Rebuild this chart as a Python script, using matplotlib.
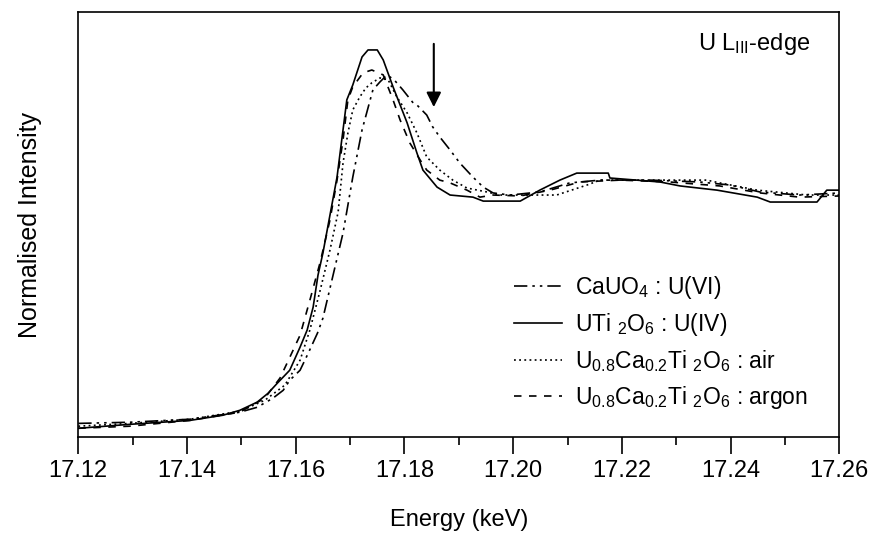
import numpy as np
import matplotlib
matplotlib.use('Agg')
import matplotlib.pyplot as plt

plt.rcParams['font.family'] = ['Liberation Sans', 'DejaVu Sans']
plt.rcParams['mathtext.fontset'] = 'custom'
plt.rcParams['mathtext.rm'] = 'Liberation Sans'
plt.rcParams['mathtext.it'] = 'Liberation Sans:italic'
plt.rcParams['mathtext.bf'] = 'Liberation Sans:bold'

# UTi2O6 : U(IV)  (solid)
e_uti = [17.1200, 17.1295, 17.1406, 17.1466, 17.1497, 17.1529, 17.1549, 17.1566, 17.1589,
         17.1608, 17.1621, 17.1632, 17.1641, 17.1650, 17.1676, 17.1687, 17.1694, 17.1705,
         17.1722, 17.1733, 17.1750, 17.1761, 17.1779, 17.1805, 17.1823, 17.1834, 17.1860,
         17.1884, 17.1926, 17.1945, 17.1957, 17.2013, 17.2049, 17.2086, 17.2117, 17.2175,
         17.2178, 17.2270, 17.2307, 17.2375, 17.2449, 17.2473, 17.2559, 17.2577, 17.2601]
i_uti = [0.000, 0.017, 0.034, 0.056, 0.077, 0.112, 0.150, 0.193, 0.249,
         0.348, 0.421, 0.519, 0.657, 0.751, 1.077, 1.279, 1.408, 1.472,
         1.592, 1.622, 1.622, 1.579, 1.464, 1.309, 1.180, 1.107, 1.034,
         1.000, 0.991, 0.974, 0.974, 0.974, 1.021, 1.064, 1.094, 1.094,
         1.073, 1.056, 1.039, 1.021, 0.991, 0.970, 0.970, 1.021, 1.021]

# CaUO4 : U(VI)  (dash-dot-dot)
e_cau = [17.1200, 17.1295, 17.1406, 17.1497, 17.1529, 17.1558, 17.1577, 17.1589, 17.1608,
         17.1623, 17.1640, 17.1650, 17.1687, 17.1705, 17.1722, 17.1737, 17.1742, 17.1755,
         17.1768, 17.1781, 17.1797, 17.1816, 17.1823, 17.1841, 17.1852, 17.1865, 17.1884,
         17.1902, 17.1926, 17.1945, 17.1963, 17.1994, 17.2049, 17.2104, 17.2160, 17.2252,
         17.2343, 17.2399, 17.2454, 17.2527, 17.2601]
i_cau = [0.021, 0.026, 0.039, 0.069, 0.090, 0.129, 0.163, 0.206, 0.249,
         0.322, 0.408, 0.472, 0.837, 1.077, 1.279, 1.408, 1.451, 1.485,
         1.515, 1.494, 1.451, 1.395, 1.386, 1.343, 1.292, 1.249, 1.193,
         1.137, 1.077, 1.034, 1.009, 1.000, 1.013, 1.052, 1.064, 1.064,
         1.056, 1.043, 1.013, 1.000, 1.009]

# U0.8Ca0.2Ti2O6 : air  (dotted)
e_air = [17.1200, 17.1295, 17.1406, 17.1497, 17.1543, 17.1580, 17.1608, 17.1626, 17.1645,
         17.1663, 17.1678, 17.1687, 17.1696, 17.1705, 17.1718, 17.1729, 17.1740, 17.1755,
         17.1770, 17.1786, 17.1805, 17.1823, 17.1841, 17.1865, 17.1889, 17.1915, 17.1952,
         17.1976, 17.2080, 17.2136, 17.2160, 17.2246, 17.2356, 17.2380, 17.2449, 17.2541,
         17.2601]
i_air = [0.009, 0.021, 0.039, 0.073, 0.120, 0.185, 0.292, 0.421, 0.592,
         0.764, 0.927, 1.137, 1.266, 1.365, 1.421, 1.459, 1.481, 1.502,
         1.494, 1.421, 1.352, 1.266, 1.163, 1.107, 1.064, 1.030, 1.013,
         1.000, 1.000, 1.043, 1.064, 1.064, 1.064, 1.052, 1.021, 1.000,
         1.000]

# U0.8Ca0.2Ti2O6 : argon  (dashed)
e_arg = [17.1200, 17.1295, 17.1406, 17.1497, 17.1543, 17.1571, 17.1584, 17.1608, 17.1626,
         17.1645, 17.1663, 17.1676, 17.1687, 17.1696, 17.1705, 17.1724, 17.1740, 17.1761,
         17.1779, 17.1792, 17.1810, 17.1829, 17.1841, 17.1865, 17.1884, 17.1915, 17.1939,
         17.1963, 17.2013, 17.2068, 17.2123, 17.2197, 17.2288, 17.2380, 17.2454, 17.2527,
         17.2601]
i_arg = [0.000, 0.009, 0.034, 0.069, 0.129, 0.215, 0.279, 0.399, 0.549,
         0.712, 0.893, 1.064, 1.236, 1.408, 1.464, 1.524, 1.536, 1.515,
         1.408, 1.322, 1.223, 1.150, 1.107, 1.064, 1.052, 1.021, 0.991,
         1.000, 0.996, 1.021, 1.056, 1.064, 1.056, 1.039, 1.009, 0.991,
         0.996]

labels = [r'CaUO$_4$ : U(VI)',
          r'UTi $_2$O$_6$ : U(IV)',
          r'U$_{0.8}$Ca$_{0.2}$Ti $_2$O$_6$ : air',
          r'U$_{0.8}$Ca$_{0.2}$Ti $_2$O$_6$ : argon']
arrow_e = 17.1854

fig = plt.figure(figsize=(8.7, 5.42), dpi=100)
ax = fig.add_axes([0.090, 0.193, 0.8747, 0.785])

lw = 1.2
ax.plot(e_cau, i_cau, color='k', lw=lw, linestyle=(0, (8, 3, 1.5, 3, 1.5, 3)), label=labels[0])
ax.plot(e_uti, i_uti, color='k', lw=lw, linestyle='-', label=labels[1])
ax.plot(e_air, i_air, color='k', lw=lw, linestyle=(0, (1.1, 2.0)), label=labels[2])
ax.plot(e_arg, i_arg, color='k', lw=lw, linestyle=(0, (4.5, 4.5)), label=labels[3])

ax.annotate('', xy=(arrow_e, 1.365), xytext=(arrow_e, 1.66),
            arrowprops=dict(arrowstyle='-|>', color='k', lw=1.5, mutation_scale=22))
ax.text(0.962, 0.925, r'U L$_{\mathrm{III}}$-edge', transform=ax.transAxes,
        ha='right', va='center', fontsize=17)

ax.set_xlim(17.12, 17.26)
ax.set_ylim(-0.039, 1.785)
ax.set_xticks(np.arange(17.12, 17.2601, 0.02))
ax.set_xticks(np.arange(17.13, 17.26, 0.02), minor=True)
ax.set_xticklabels(['%.2f' % v for v in np.arange(17.12, 17.2601, 0.02)])
ax.set_yticks([])
ax.tick_params(axis='x', which='major', direction='out', length=12, width=1.2, labelsize=17, pad=4)
ax.tick_params(axis='x', which='minor', direction='out', length=6, width=1.2)
for s in ax.spines.values():
    s.set_linewidth(1.2)

ax.set_xlabel('Energy (keV)', fontsize=17, labelpad=20)
ax.set_ylabel('Normalised Intensity', fontsize=18, labelpad=26)

ax.legend(loc='upper left', bbox_to_anchor=(0.56, 0.405), frameon=False, fontsize=16.5,
          handlelength=2.1, handletextpad=0.6, labelspacing=0.44, borderaxespad=0)

fig.savefig('out.png', dpi=100)
